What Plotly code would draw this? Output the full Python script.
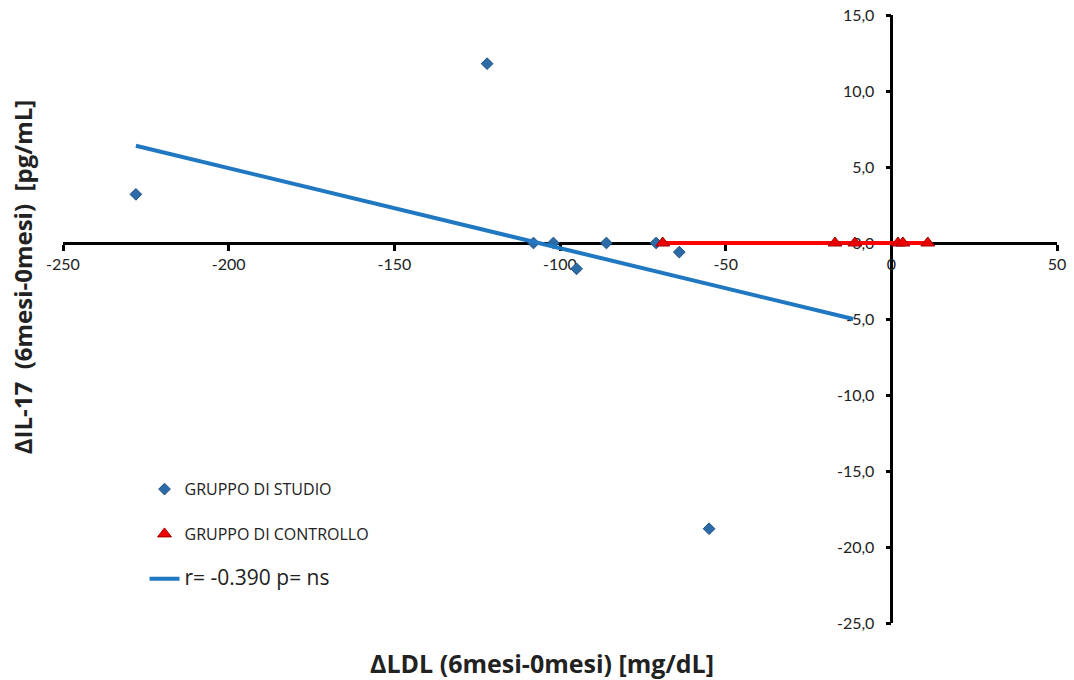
import plotly.graph_objects as go

# Gruppo di studio: variazione LDL vs variazione IL-17
study_x = [-228, -122, -108, -102, -95, -86, -71, -64, -55]
study_y = [3.2, 11.8, 0.0, 0.0, -1.7, 0.0, 0.0, -0.6, -18.8]

# Gruppo di controllo
control_x = [-69, -17, -11, 2, 3.5, 11]
control_y = [0.0, 0.0, 0.0, 0.0, 0.0, 0.0]

# Retta di regressione del gruppo di studio (estremi)
fit_x = [-228, -11.5]
fit_y = [6.4, -5.0]
fit_label = "r= -0.390 p= ns"

# Andamento del gruppo di controllo (estremi)
ctrl_fit_x = [-69, 11]
ctrl_fit_y = [0.0, 0.0]

x_ticks = [-250, -200, -150, -100, -50, 0, 50]
x_ticktext = ["-250", "-200", "-150", "-100", "-50", "0", "50"]
y_ticks = [-25, -20, -15, -10, -5, 0, 5, 10, 15]
y_ticktext = ["-25,0", "-20,0", "-15,0", "-10,0", "-5,0", "0,0", "5,0", "10,0", "15,0"]

x_range = [-250, 50]
y_range = [-25, 15]

FONT = "Lato"
TITLE_FONT = "Open Sans"

fig = go.Figure()

fig.add_trace(go.Scatter(
    x=study_x, y=study_y, mode="markers", name="GRUPPO DI STUDIO",
    legendgroup="a",
    marker=dict(symbol="diamond", size=9, color="#2B6CA8",
                line=dict(color="#1D4F80", width=1)),
))
fig.add_trace(go.Scatter(
    x=ctrl_fit_x, y=ctrl_fit_y, mode="lines", showlegend=False,
    line=dict(color="#FF0000", width=4),
))
fig.add_trace(go.Scatter(
    x=control_x, y=control_y, mode="markers", name="GRUPPO DI CONTROLLO",
    legendgroup="b",
    marker=dict(symbol="triangle-up", size=12, color="#EE0000",
                line=dict(color="#A00000", width=1)),
))
fig.add_trace(go.Scatter(
    x=fit_x, y=fit_y, mode="lines",
    name="<span style='font-size:21px'>" + fit_label + "</span>",
    legendgroup="c",
    line=dict(color="#1F78C1", width=4),
))

x_pos = (0 - x_range[0]) / (x_range[1] - x_range[0])
y_pos = (0 - y_range[0]) / (y_range[1] - y_range[0])

fig.update_layout(
    width=1074, height=680,
    margin=dict(l=63, r=17, t=15, b=57, autoexpand=False),
    paper_bgcolor="white", plot_bgcolor="white",
    font=dict(family=FONT, size=14, color="#222222"),
    xaxis=dict(
        range=x_range, anchor="free", position=y_pos, automargin=False,
        tickvals=x_ticks, ticktext=x_ticktext,
        showgrid=False, zeroline=False,
        showline=True, linecolor="black", linewidth=2.5,
        ticks="outside", ticklen=6, tickwidth=2.5, tickcolor="black",
        tickfont=dict(family=FONT, size=16, color="#222222"),
        layer="below traces",
    ),
    yaxis=dict(
        range=y_range, anchor="free", position=x_pos, side="left", automargin=False,
        tickvals=y_ticks, ticktext=y_ticktext,
        showgrid=False, zeroline=False,
        showline=True, linecolor="black", linewidth=2.5,
        ticks="outside", ticklen=5, tickwidth=2.5, tickcolor="black",
        ticklabelstandoff=8,
        tickfont=dict(family=FONT, size=16, color="#222222"),
        layer="below traces",
    ),
    legend=dict(
        x=0.082, y=0.248, xanchor="left", yanchor="top",
        font=dict(family=TITLE_FONT, size=16, color="#222222"),
        bgcolor="rgba(0,0,0,0)", tracegroupgap=21,
    ),
    annotations=[
        dict(text="<b>ΔLDL (6mesi-0mesi) [mg/dL]</b>", xref="paper", yref="paper",
             x=0.482, y=-0.065, xanchor="center", yanchor="middle", showarrow=False,
             font=dict(family=TITLE_FONT, size=25, color="#222222")),
        dict(text="<b>ΔIL-17  (6mesi-0mesi)  [pg/mL]</b>", xref="paper", yref="paper",
             x=-0.041, y=0.569, xanchor="center", yanchor="middle", showarrow=False,
             textangle=-90,
             font=dict(family=TITLE_FONT, size=24, color="#222222")),
    ],
)

fig.write_html("out.html")
